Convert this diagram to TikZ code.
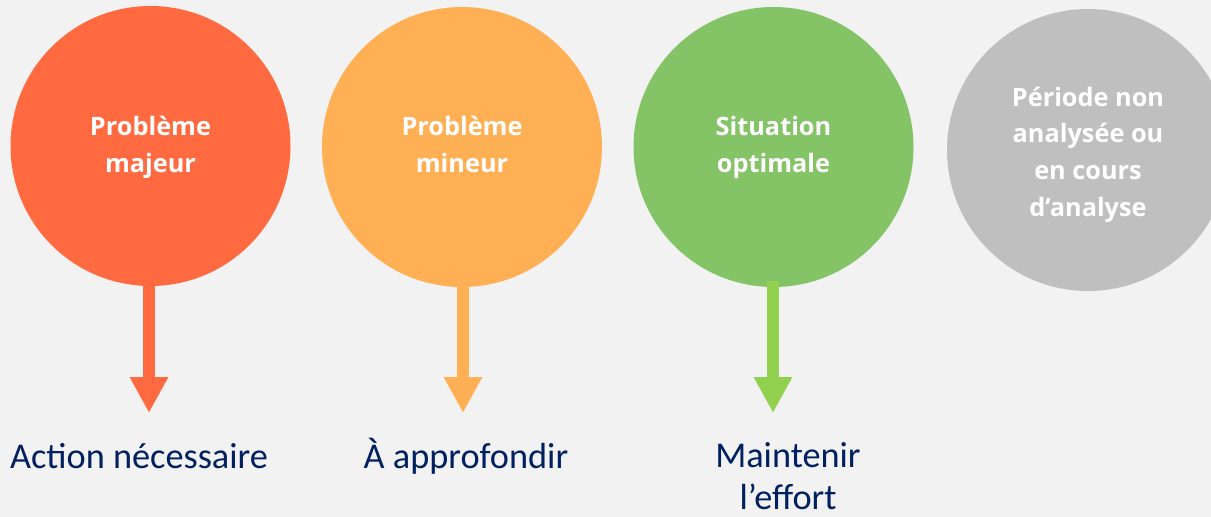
\documentclass[tikz,border=0pt]{standalone}
\usepackage{fontspec}
\setmainfont{Carlito}
\newfontfamily\circfont{Open Sans}
\usetikzlibrary{arrows.meta}
\definecolor{bgc}{HTML}{F2F2F2}
\definecolor{redc}{HTML}{FF6A40}
\definecolor{orangec}{HTML}{FFB055}
\definecolor{greenc}{HTML}{84C366}
\definecolor{greena}{HTML}{92D050}
\definecolor{grayc}{HTML}{BFBFBF}
\definecolor{navy}{HTML}{002060}
\tikzset{
  disc/.style={circle, minimum size=280pt, inner sep=0pt},
  disctext/.style={text=white, align=center, anchor=base, inner sep=0pt,
    font=\circfont\bfseries\fontsize{25.3}{36.6}\selectfont},
  bigarrow/.style={line width=12pt, -{Triangle[width=36pt,length=36pt]}},
  outtext/.style={text=navy, align=center, anchor=base, inner sep=0pt,
    font=\fontsize{36.3}{42}\selectfont}
}
\begin{document}
\begin{tikzpicture}[x=1pt,y=-1pt]
\fill[bgc] (0,0) rectangle (1211,517);
\useasboundingbox (0,0) rectangle (1211,517);
\begin{scope}
\clip (0,0) rectangle (1211,517);
\node[disc, fill=redc] (c1) at (150.5,146) {};
\node[disc, fill=orangec] (c2) at (462,147) {};
\node[disc, fill=greenc] (c3) at (773.5,147) {};
\node[disc, fill=grayc, minimum size=282pt] (c4) at (1088,150) {};
\end{scope}
\node[disctext] (d1) at (150.5,172.5) {Problème\\majeur};
\node[disctext] (d2) at (462,172.5) {Problème\\mineur};
\node[disctext] (d3) at (773.5,172.5) {Situation\\optimale};
\node[disctext] (d4) at (1088,216) {Période non\\analysée ou\\en cours\\d’analyse};
\coordinate (t1) at (149,413);
\coordinate (t2) at (463,413);
\coordinate (t3) at (773,413);
\draw[bigarrow, redc] (c1.south) ++(-1.5,-6) -- (t1);
\draw[bigarrow, orangec] (c2.south) ++(1,-6) -- (t2);
\draw[bigarrow, greena] (c3.south) ++(-0.5,-6) -- (t3);
\node[outtext] (l1) at (139,468) {Action nécessaire};
\node[outtext] (l2) at (466,468) {À approfondir};
\node[outtext] (l3) at (788,509) {Maintenir\\l’effort};
\end{tikzpicture}
\end{document}
